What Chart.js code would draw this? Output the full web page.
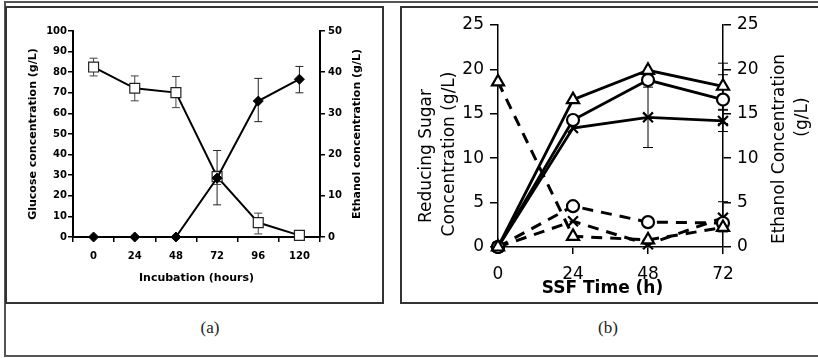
<!DOCTYPE html>
<html>
<head>
<meta charset="utf-8">
<script src="https://cdn.jsdelivr.net/npm/chart.js@4.4.0/dist/chart.umd.min.js"></script>
<style>
  body { margin: 0; width: 818px; height: 358px; background: #fff; position: relative; overflow: hidden; }
  .frame { position: absolute; box-sizing: border-box; }
  #outer { left: 4px; top: 1px; width: 820px; height: 356px; border: 2px solid #555; border-right: none; }
  #boxA { left: 5px; top: 6px; width: 379px; height: 298px; border: 2px solid #333; }
  #boxB { left: 400px; top: 6px; width: 430px; height: 298px; border: 2px solid #333; }
  .cap { position: absolute; top: 318px; width: 40px; text-align: center; font: 17px 'Liberation Serif', serif; color: #222; }
  canvas { position: absolute; top: 0; }
</style>
</head>
<body>
<div class="frame" id="outer"></div>
<div class="frame" id="boxA"></div>
<div class="frame" id="boxB"></div>
<div class="cap" style="left:190px">(a)</div>
<div class="cap" style="left:588px">(b)</div>
<canvas id="chartA" width="390" height="300" style="left:0"></canvas>
<canvas id="chartB" width="417" height="300" style="left:401px"></canvas>
<script>
// ---- (a) incubation data ----
const hoursA = ['0', '24', '48', '72', '96', '120'];
const glucose = [82.5, 72.2, 70.1, 29.3, 7.0, 0.8];
const glucoseLow = [78.2, 66.1, 62.8, 25.5, 1.5, null];
const glucoseHigh = [86.8, 78.2, 77.9, 32.0, 11.6, null];
const ethanolA = [0, 0, 0, 14.3, 33.0, 38.3];
const ethanolLow = [null, null, null, 7.8, 28.0, 35.0];
const ethanolHigh = [null, null, null, 21.0, 38.5, 41.4];

// ---- (b) SSF data ----
const timeB = [0, 24, 48, 72];
const ethanolTri = [0, 16.6, 19.9, 18.1];
const ethanolCircle = [0, 14.3, 18.8, 16.6];
const ethanolCross = [0, 13.4, 14.6, 14.2];
const sugarTri = [18.6, 1.2, 0.8, 2.2];
const sugarCircle = [0, 4.6, 2.8, 2.7];
const sugarCross = [0, 2.9, 0.3, 3.3];
const ethanolTriLow = [null, null, null, 15.5];
const ethanolTriHigh = [null, null, null, 20.7];
const ethanolCircleLow = [null, null, null, 13.9];
const ethanolCircleHigh = [null, null, null, 19.4];
const ethanolCrossLow = [null, null, 11.2, 13.0];
const ethanolCrossHigh = [null, null, 18.0, 15.4];
const sugarCrossLow = [null, null, null, 1.7];
const sugarCrossHigh = [null, null, null, 5.1];

const SANS = "'DejaVu Sans', sans-serif";

// error bars drawn under the markers, positions from the chart's scales
const errorBars = {
  id: 'errorBars',
  beforeDatasetsDraw(chart) {
    const ctx = chart.ctx;
    chart.data.datasets.forEach((ds, i) => {
      if (!ds.errLow) return;
      const meta = chart.getDatasetMeta(i);
      const ys = chart.scales[meta.yAxisID];
      meta.data.forEach((pt, j) => {
        const lo = ds.errLow[j], hi = ds.errHigh[j];
        if (lo == null) return;
        const y1 = ys.getPixelForValue(lo), y2 = ys.getPixelForValue(hi);
        const w = ds.capWidth || 4;
        ctx.save();
        ctx.strokeStyle = ds.errColor || '#000';
        ctx.lineWidth = ds.errWidth || 1;
        ctx.beginPath();
        ctx.moveTo(pt.x, y1); ctx.lineTo(pt.x, y2);
        ctx.moveTo(pt.x - w, y1); ctx.lineTo(pt.x + w, y1);
        ctx.moveTo(pt.x - w, y2); ctx.lineTo(pt.x + w, y2);
        ctx.stroke();
        ctx.restore();
      });
    });
  }
};

// axis titles (both side titles read bottom-to-top, as in the figure)
function axisTitles(items) {
  return {
    id: 'axisTitles',
    afterDraw(chart) {
      const { ctx, chartArea: a } = chart;
      const cx = (a.left + a.right) / 2, cy = (a.top + a.bottom) / 2;
      items.forEach(t => {
        const x = t.from === 'left' ? a.left + t.dx : t.from === 'right' ? a.right + t.dx : cx + t.dx;
        const y = t.from === 'bottom' ? a.bottom + t.dy : cy + t.dy;
        ctx.save();
        ctx.font = t.font;
        ctx.fillStyle = '#000';
        ctx.textAlign = 'center';
        ctx.textBaseline = 'middle';
        ctx.translate(x, y);
        ctx.rotate(t.rot || 0);
        ctx.fillText(t.text, 0, 0);
        ctx.restore();
      });
    }
  };
}

function axisStyle(tickLen, width) {
  return { display: true, drawOnChartArea: false, drawTicks: true, tickLength: tickLen, color: '#000', lineWidth: width };
}

// ---------- chart (a) ----------
const fontA = { family: SANS, size: 10, weight: 'bold' };
new Chart(document.getElementById('chartA'), {
  type: 'line',
  data: {
    labels: hoursA,
    datasets: [{
      label: 'Ethanol',
      data: ethanolA,
      yAxisID: 'y2',
      order: 0,
      borderColor: '#000',
      borderWidth: 2,
      pointStyle: 'rectRot',
      pointRadius: 5,
      pointBackgroundColor: '#000',
      pointBorderColor: '#000',
      pointBorderWidth: 1,
      errLow: ethanolLow, errHigh: ethanolHigh, errColor: '#222', capWidth: 4,
      clip: false
    }, {
      label: 'Glucose',
      data: glucose,
      yAxisID: 'y',
      order: 1,
      borderColor: '#000',
      borderWidth: 2,
      pointStyle: 'rect',
      pointRadius: 7,
      pointBackgroundColor: '#fff',
      pointBorderColor: '#222',
      pointBorderWidth: 1.2,
      errLow: glucoseLow, errHigh: glucoseHigh, errColor: '#444', capWidth: 4,
      clip: false
    }]
  },
  options: {
    responsive: false,
    animation: false,
    layout: { padding: { top: 31, left: 0, right: 0, bottom: 0 } },
    plugins: { legend: { display: false }, tooltip: { enabled: false } },
    scales: {
      x: {
        type: 'category',
        offset: true,
        grid: Object.assign(axisStyle(5, 1.5), { offset: true }),
        border: { display: true, color: '#000', width: 2 },
        ticks: { color: '#000', font: fontA, padding: 8, maxRotation: 0 },
        afterFit: s => { s.height = 63; }
      },
      y: {
        position: 'left',
        min: 0, max: 100,
        grid: axisStyle(5, 1.5),
        border: { display: true, color: '#000', width: 2 },
        ticks: { stepSize: 10, color: '#000', font: fontA, padding: 1 },
        afterFit: s => { s.width = 73; }
      },
      y2: {
        position: 'right',
        min: 0, max: 50,
        grid: axisStyle(5, 1.5),
        border: { display: true, color: '#000', width: 2 },
        ticks: { stepSize: 10, color: '#000', font: fontA, padding: 3 },
        afterFit: s => { s.width = 70; }
      }
    }
  },
  plugins: [errorBars, axisTitles([
    { text: 'Glucose concentration (g/L)', font: 'bold 11px ' + SANS, from: 'left', dx: -40, dy: 0, rot: -Math.PI / 2 },
    { text: 'Ethanol concentration (g/L)', font: 'bold 11px ' + SANS, from: 'right', dx: 37, dy: 0, rot: -Math.PI / 2 },
    { text: 'Incubation (hours)', font: 'bold 11px ' + SANS, from: 'bottom', dx: 0, dy: 41 }
  ])]
});

// ---------- chart (b) ----------
const fontB = { family: SANS, size: 17 };
function pts(ys) { return timeB.map((t, i) => ({ x: t, y: ys[i] })); }
function seriesB(label, ys, axis, style, radius, dashed, low, high) {
  return {
    label: label,
    data: pts(ys),
    yAxisID: axis,
    borderColor: '#000',
    borderWidth: dashed ? 3 : 2.8,
    borderDash: dashed ? [11, 8] : [],
    pointStyle: style,
    pointRadius: radius,
    pointBackgroundColor: '#fff',
    pointBorderColor: '#000',
    pointBorderWidth: 2.2,
    errLow: low, errHigh: high, errColor: '#000', capWidth: 5,
    clip: false
  };
}
new Chart(document.getElementById('chartB'), {
  type: 'line',
  data: {
    datasets: [
      seriesB('Ethanol triangle', ethanolTri, 'y2', 'triangle', 7, false, ethanolTriLow, ethanolTriHigh),
      seriesB('Ethanol circle', ethanolCircle, 'y2', 'circle', 6, false, ethanolCircleLow, ethanolCircleHigh),
      seriesB('Ethanol cross', ethanolCross, 'y2', 'crossRot', 7, false, ethanolCrossLow, ethanolCrossHigh),
      seriesB('Sugar triangle', sugarTri, 'y', 'triangle', 7, true, null, null),
      seriesB('Sugar circle', sugarCircle, 'y', 'circle', 6, true, null, null),
      seriesB('Sugar cross', sugarCross, 'y', 'crossRot', 7, true, sugarCrossLow, sugarCrossHigh)
    ]
  },
  options: {
    responsive: false,
    animation: false,
    layout: { padding: { top: 25, left: 0, right: 0, bottom: 0 } },
    plugins: { legend: { display: false }, tooltip: { enabled: false } },
    scales: {
      x: {
        type: 'linear',
        min: 0, max: 72,
        grid: axisStyle(7, 1.5),
        border: { display: true, color: '#000', width: 1.5 },
        ticks: { stepSize: 24, color: '#000', font: fontB, padding: 10, maxRotation: 0 },
        afterFit: s => { s.height = 53; }
      },
      y: {
        position: 'left',
        min: 0, max: 25,
        grid: axisStyle(8, 1.5),
        border: { display: true, color: '#000', width: 1.5 },
        ticks: { stepSize: 5, color: '#000', font: fontB, padding: 6 },
        afterFit: s => { s.width = 97; }
      },
      y2: {
        position: 'right',
        min: 0, max: 25,
        grid: axisStyle(8, 1.5),
        border: { display: true, color: '#000', width: 1.5 },
        ticks: { stepSize: 5, color: '#000', font: fontB, padding: 6 },
        afterFit: s => { s.width = 95; }
      }
    }
  },
  plugins: [errorBars, axisTitles([
    { text: 'Reducing Sugar', font: '17px ' + SANS, from: 'left', dx: -71, dy: 20, rot: -Math.PI / 2 },
    { text: 'Concentration (g/L)', font: '17px ' + SANS, from: 'left', dx: -48, dy: 18, rot: -Math.PI / 2 },
    { text: 'Ethanol Concentration', font: '17px ' + SANS, from: 'right', dx: 57, dy: 13, rot: -Math.PI / 2 },
    { text: '(g/L)', font: '17px ' + SANS, from: 'right', dx: 80, dy: -19, rot: -Math.PI / 2 },
    { text: 'SSF Time (h)', font: 'bold 17px ' + SANS, from: 'bottom', dx: -8, dy: 42 }
  ])]
});
</script>
</body>
</html>
